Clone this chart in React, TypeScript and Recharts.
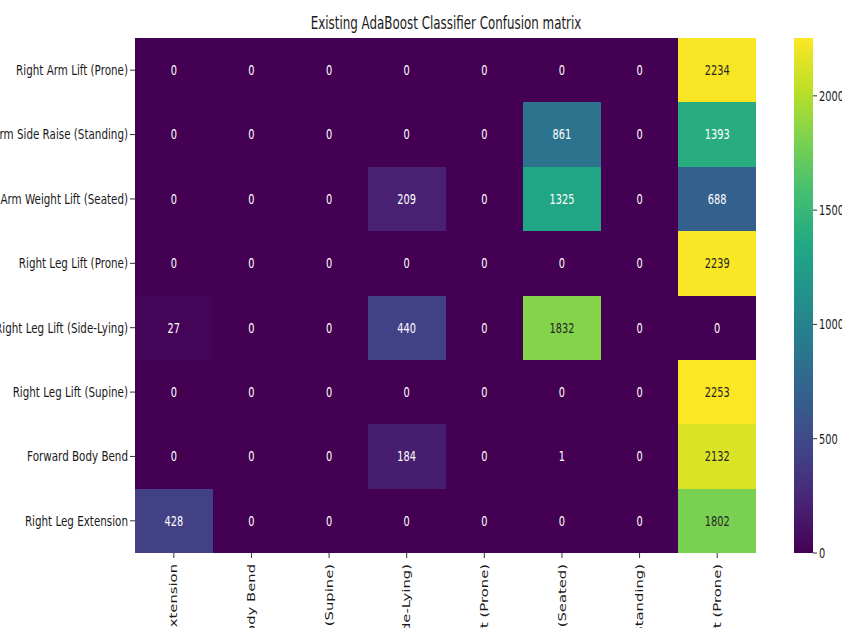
import React from 'react';
import { ScatterChart, Scatter, XAxis, YAxis, ReferenceArea, BarChart, Bar } from 'recharts';

// Class names (predicted order, left to right)
const predictedLabels = [
  'Right Leg Extension',
  'Forward Body Bend',
  'Right Leg Lift (Supine)',
  'Right Leg Lift (Side-Lying)',
  'Right Leg Lift (Prone)',
  'Right Arm Weight Lift (Seated)',
  'Right Arm Side Raise (Standing)',
  'Right Arm Lift (Prone)',
];
// Actual classes, top to bottom
const actualLabels = [
  'Right Arm Lift (Prone)',
  'Right Arm Side Raise (Standing)',
  'Right Arm Weight Lift (Seated)',
  'Right Leg Lift (Prone)',
  'Right Leg Lift (Side-Lying)',
  'Right Leg Lift (Supine)',
  'Forward Body Bend',
  'Right Leg Extension',
];

const rowArmLiftProne = [0, 0, 0, 0, 0, 0, 0, 2234];
const rowArmSideRaise = [0, 0, 0, 0, 0, 861, 0, 1393];
const rowArmWeightLift = [0, 0, 0, 209, 0, 1325, 0, 688];
const rowLegLiftProne = [0, 0, 0, 0, 0, 0, 0, 2239];
const rowLegLiftSide = [27, 0, 0, 440, 0, 1832, 0, 0];
const rowLegLiftSupine = [0, 0, 0, 0, 0, 0, 0, 2253];
const rowForwardBend = [0, 0, 0, 184, 0, 1, 0, 2132];
const rowLegExtension = [428, 0, 0, 0, 0, 0, 0, 1802];

const matrix = [
  rowArmLiftProne,
  rowArmSideRaise,
  rowArmWeightLift,
  rowLegLiftProne,
  rowLegLiftSide,
  rowLegLiftSupine,
  rowForwardBend,
  rowLegExtension,
];

const colorbarTicks = [0, 500, 1000, 1500, 2000];
const title = 'Existing AdaBoost Classifier Confusion matrix';

const vmin = 0;
const vmax = Math.max(...matrix.map((r) => Math.max(...r)));

const viridisStops = [
  '#440154', '#482475', '#414487', '#355f8d', '#2a788e', '#21918c',
  '#22a884', '#44bf70', '#7ad151', '#bddf26', '#fde725',
];

function hexToRgb(h: string) {
  return [parseInt(h.slice(1, 3), 16), parseInt(h.slice(3, 5), 16), parseInt(h.slice(5, 7), 16)];
}

function viridisRgb(t: number) {
  const tt = Math.max(0, Math.min(1, t));
  const pos = tt * (viridisStops.length - 1);
  const i = Math.min(Math.floor(pos), viridisStops.length - 2);
  const f = pos - i;
  const a = hexToRgb(viridisStops[i]);
  const b = hexToRgb(viridisStops[i + 1]);
  return a.map((v, k) => v + (b[k] - v) * f);
}

function viridis(t: number) {
  const c = viridisRgb(t).map((v) => Math.round(v));
  return `rgb(${c[0]},${c[1]},${c[2]})`;
}

function luminanceOf(t: number) {
  const c = viridisRgb(t).map((v) => v / 255);
  const lin = c.map((v) => (v <= 0.03928 ? v / 12.92 : Math.pow((v + 0.055) / 1.055, 2.4)));
  return 0.2126 * lin[0] + 0.7152 * lin[1] + 0.0722 * lin[2];
}

const cells = matrix.flatMap((row, r) =>
  row.map((v, c) => ({ x: c + 0.5, y: r + 0.5, r, c, v }))
);

const FONT = 'DejaVu Sans';
const SQ = 0.7;
const SQY = 0.74;

const YTick = (props: any) => {
  const { x, y, payload } = props;
  const label = actualLabels[Math.floor(payload.value)];
  return (
    <g transform={`translate(${x},${y}) scale(${SQY},1)`}>
      <text x={0} y={0} dy="0.35em" textAnchor="end" fontSize={14} fontFamily={FONT} fill="#1a1a1a">
        {label}
      </text>
    </g>
  );
};

const XTick = (props: any) => {
  const { x, y, payload } = props;
  const label = predictedLabels[Math.floor(payload.value)];
  return (
    <g transform={`translate(${x},${y}) scale(${SQ},1) rotate(-90)`}>
      <text x={-4} y={0} dy="0.35em" textAnchor="end" fontSize={14.8} fontFamily={FONT} fill="#1a1a1a">
        {label}
      </text>
    </g>
  );
};

const CbTick = (props: any) => {
  const { x, y, payload } = props;
  return (
    <g transform={`translate(${x},${y}) scale(${SQ},1)`}>
      <text x={0} y={0} dy="0.35em" textAnchor="start" fontSize={14} fontFamily={FONT} fill="#1a1a1a">
        {payload.value}
      </text>
    </g>
  );
};

const Annot = (props: any) => {
  const { cx, cy, payload } = props;
  const t = (payload.v - vmin) / (vmax - vmin);
  const color = luminanceOf(t) > 0.408 ? '#262626' : '#ffffff';
  return (
    <g transform={`translate(${cx},${cy}) scale(${SQ},1)`}>
      <text x={0} y={0} dy="0.35em" textAnchor="middle" fontSize={14} fontFamily={FONT} fill={color}>
        {payload.v}
      </text>
    </g>
  );
};

const cbData = [{ name: 'cb', v: vmax }];

export default function App() {
  return (
    <div style={{ position: 'absolute', left: 0, top: 0, width: 842, height: 628, overflow: 'hidden', background: '#fff' }}>
      <svg width={842} height={40} style={{ position: 'absolute', left: 0, top: 0 }}>
        <g transform={`translate(446,29) scale(${SQ},1)`}>
          <text x={0} y={0} textAnchor="middle" fontSize={17} fontFamily={FONT} fill="#1a1a1a">
            {title}
          </text>
        </g>
      </svg>
      <div style={{ position: 'absolute', left: 0, top: 0 }}>
        <ScatterChart width={842} height={628} margin={{ top: 38, right: 86, bottom: 0, left: 0 }}>
          <XAxis
            type="number"
            dataKey="x"
            domain={[0, 8]}
            ticks={[0.5, 1.5, 2.5, 3.5, 4.5, 5.5, 6.5, 7.5]}
            interval={0}
            height={75}
            axisLine={false}
            tickSize={5}
            tickLine={{ stroke: '#333' }}
            tick={XTick}
            allowDataOverflow
          />
          <YAxis
            type="number"
            dataKey="y"
            domain={[0, 8]}
            reversed
            ticks={[0.5, 1.5, 2.5, 3.5, 4.5, 5.5, 6.5, 7.5]}
            interval={0}
            width={135}
            axisLine={false}
            tickSize={5}
            tickLine={{ stroke: '#333' }}
            tick={YTick}
            allowDataOverflow
          />
          {cells.map((d) => {
            const col = viridis((d.v - vmin) / (vmax - vmin));
            return (
              <ReferenceArea
                key={`c-${d.r}-${d.c}`}
                x1={d.c}
                x2={d.c + 1}
                y1={d.r}
                y2={d.r + 1}
                fill={col}
                fillOpacity={1}
                stroke="none"
                strokeWidth={0}
                shapeRendering="crispEdges"
                ifOverflow="visible"
              />
            );
          })}
          <Scatter data={cells} isAnimationActive={false} shape={Annot} />
        </ScatterChart>
      </div>
      <div style={{ position: 'absolute', left: 780, top: 0 }}>
        <BarChart width={62} height={628} data={cbData} margin={{ top: 38, right: 0, bottom: 75, left: 14 }} barCategoryGap={0}>
          <defs>
            <linearGradient id="viridisGrad" x1="0" y1="1" x2="0" y2="0">
              {viridisStops.map((s, i) => (
                <stop key={s} offset={i / (viridisStops.length - 1)} stopColor={s} />
              ))}
            </linearGradient>
          </defs>
          <XAxis dataKey="name" hide />
          <YAxis
            orientation="right"
            type="number"
            domain={[0, vmax]}
            ticks={colorbarTicks}
            width={29}
            axisLine={false}
            tickSize={4}
            tickLine={{ stroke: '#333' }}
            tick={CbTick}
            allowDataOverflow
          />
          <Bar dataKey="v" fill="url(#viridisGrad)" isAnimationActive={false} />
        </BarChart>
      </div>
    </div>
  );
}
